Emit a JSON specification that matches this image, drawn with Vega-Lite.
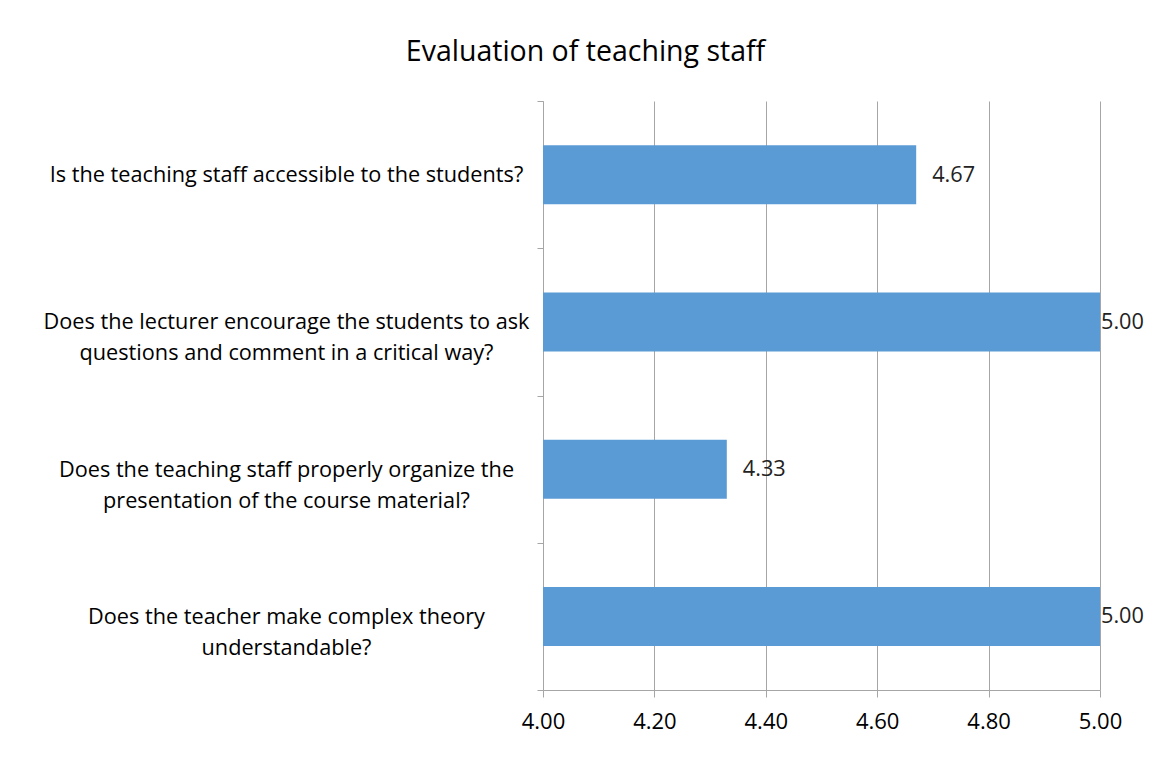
{
  "$schema": "https://vega.github.io/schema/vega-lite/v6.json",
  "width": 557,
  "height": 589,
  "autosize": {"type": "none"},
  "padding": {"left": 543, "top": 101, "right": 56, "bottom": 76},
  "background": "white",
  "title": {
    "text": "Evaluation of teaching staff",
    "font": "Open Sans",
    "fontSize": 28.5,
    "fontWeight": "normal",
    "color": "#000000",
    "anchor": "middle",
    "dx": -236,
    "offset": 25
  },
  "data": {
    "values": [
      {"question": "Is the teaching staff accessible to the students?", "score": 4.67},
      {"question": "Does the lecturer encourage the students to ask|questions and comment in a critical way?", "score": 5.0},
      {"question": "Does the teaching staff properly organize the|presentation of the course material?", "score": 4.33},
      {"question": "Does the teacher make complex theory|understandable?", "score": 5.0}
    ]
  },
  "encoding": {
    "y": {
      "field": "question",
      "type": "nominal",
      "sort": null,
      "scale": {"paddingInner": 0, "paddingOuter": 0},
      "axis": {
        "title": null,
        "labelExpr": "split(datum.label, '|')",
        "labelFont": "Open Sans",
        "labelFontSize": 21.7,
        "labelColor": "#000000",
        "labelLimit": 0,
        "labelAlign": "center",
        "labelBaseline": "middle",
        "labelLineHeight": 31,
        "labelPadding": 251,
        "tickBand": "extent",
        "tickSize": 6,
        "tickColor": "#a6a6a6",
        "domainColor": "#a6a6a6",
        "grid": false
      }
    },
    "x": {
      "field": "score",
      "type": "quantitative",
      "scale": {"domain": [4, 5], "zero": false, "nice": false},
      "axis": {
        "title": null,
        "values": [4, 4.2, 4.4, 4.6, 4.8, 5],
        "format": ".2f",
        "labelFont": "Open Sans",
        "labelFontSize": 22,
        "labelColor": "#000000",
        "labelPadding": 14,
        "labelFlush": false,
        "tickSize": 7,
        "tickColor": "#a6a6a6",
        "domainColor": "#a6a6a6",
        "grid": true,
        "gridColor": "#a6a6a6",
        "gridWidth": 1
      }
    }
  },
  "layer": [
    {
      "mark": {"type": "bar", "color": "#5B9BD5", "size": 59},
      "encoding": {"x2": {"datum": 4}}
    },
    {
      "transform": [{"filter": "datum.score < 5"}],
      "mark": {"type": "text", "align": "left", "baseline": "middle", "dx": 16, "font": "Open Sans", "fontSize": 21.7, "color": "#222222"},
      "encoding": {"text": {"field": "score", "type": "quantitative", "format": ".2f"}}
    },
    {
      "transform": [{"filter": "datum.score >= 5"}],
      "mark": {"type": "text", "align": "left", "baseline": "middle", "dx": 1, "font": "Open Sans", "fontSize": 21.7, "color": "#222222"},
      "encoding": {"text": {"field": "score", "type": "quantitative", "format": ".2f"}}
    }
  ],
  "config": {"view": {"stroke": null}}
}
